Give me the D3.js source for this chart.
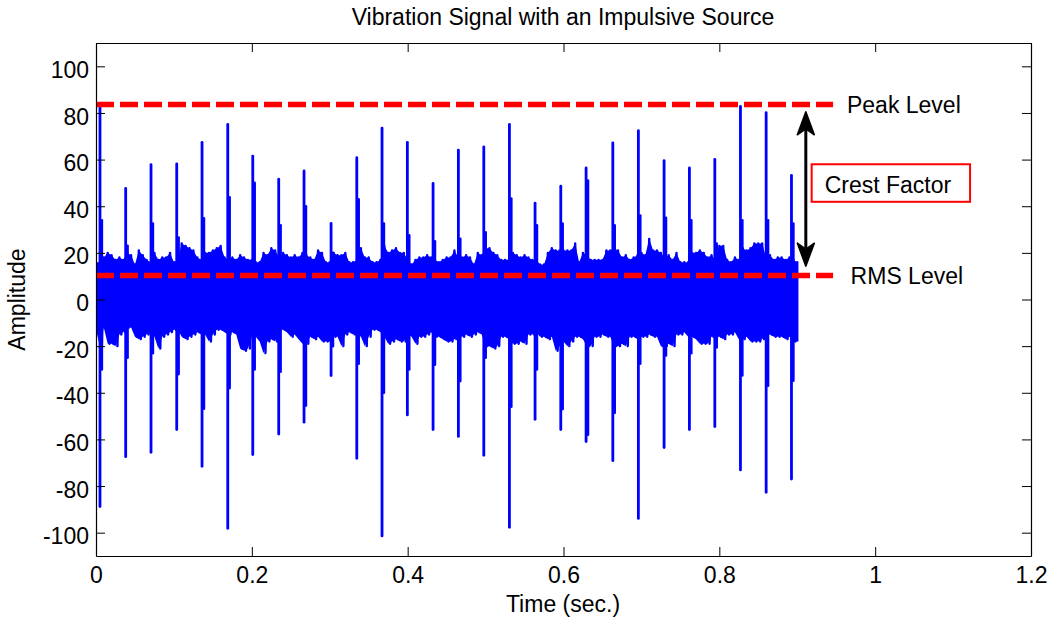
<!DOCTYPE html>
<html>
<head>
<meta charset="utf-8">
<script src="https://cdn.jsdelivr.net/npm/d3@7"></script>
<style>
  html, body { margin: 0; padding: 0; background: #fff; }
  svg { display: block; font-family: "Liberation Sans", Arial, Helvetica, sans-serif; }
</style>
</head>
<body>
<svg id="chart" width="1051" height="621"></svg>
<script>
// ---------------- DATA ----------------
const xTicks = [0, 0.2, 0.4, 0.6, 0.8, 1, 1.2];
const yTicks = [-100, -80, -60, -40, -20, 0, 20, 40, 60, 80, 100];

// impulse (spike) times in seconds
const impulseT = [0.0051, 0.0381, 0.0706, 0.1036, 0.1361, 0.1691, 0.2012, 0.2345, 0.2670, 0.3017,
                  0.3347, 0.3671, 0.3996, 0.4326, 0.4651, 0.4977, 0.5306, 0.5635, 0.5965, 0.6290,
                  0.6633, 0.6961, 0.7291, 0.7616, 0.7942, 0.8271, 0.8601, 0.8926];
// spike maxima
const impulsePeak = [83.6, 47.6, 57.8, 58.2, 67.4, 75.1, 61.5, 51.6, 55.1, 32.6,
                     60.8, 73.5, 67.4, 49.8, 64.1, 65.4, 75.1, 41.3, 48.6, 56.4,
                     67.2, 72.4, 59.5, 56.4, 60.1, 82.8, 80.1, 53.2];
// spike minima
const impulseTrough = [-88.8, -67.4, -65.5, -55.8, -71.5, -98.1, -66.5, -57.7, -52.6, -32.6,
                       -68.1, -101.4, -49.5, -55.8, -58.7, -66.8, -97.7, -51.4, -55.8, -60.9,
                       -69.1, -93.9, -63.5, -55.8, -54.5, -73.1, -82.7, -77.0];
// decaying ring-down right after each spike
const shoulderHi = [34, 23, 32.6, 26.6, 34.8, 43.8, 50, 31.8, 40, 20,
                    43, 32.6, 27.5, 25, 26, 28.8, 43.3, 31.8, 32.6, 51,
                    31.8, 36, 35, 34, 24, 34, 34, 32.6];
const shoulderLo = [-30, -25, -23, -32, -46.8, -38, -30, -31, -45.5, -20,
                    -27.5, -40, -30, -28, -35, -25, -46, -30, -47, -58,
                    -48.6, -27.5, -24, -23, -20.6, -32.6, -37, -34.8];

// background vibration envelope, one sample every 0.005 s from 0 to 0.9 s
const envStep = 0.005;
const envUpper = [
  16,16,18,20,19,17,18,17,20,19,
  15,21,19,17,16,20,17,18,18,20,
  16,17,24,23,22,21,18,17,20,20,
  21,22,23,18,17,18,17,19,18,17,
  17,16,16,20,19,22,21,18,20,19,
  18,19,18,20,19,18,17,21,20,16,
  16,20,19,19,20,16,16,17,22,18,
  18,16,16,17,23,20,21,22,20,20,
  17,15,17,18,18,19,18,17,16,17,
  18,18,21,18,18,19,18,15,20,19,
  22,22,20,19,17,17,17,20,19,18,
  19,18,17,17,15,15,20,22,21,21,
  21,21,21,24,16,20,19,17,17,17,
  17,21,21,22,21,18,19,17,18,19,
  20,19,26,21,21,20,18,19,17,20,
  16,16,16,20,20,21,20,18,19,17,
  23,23,17,16,18,17,22,21,22,24,
  24,24,18,19,17,18,18,17,18,17,16
];
const envLower = [
  -13,-20,-12,-19,-19,-20,-15,-14,-12,-12,
  -16,-17,-16,-15,-14,-16,-21,-16,-15,-14,
  -13,-13,-16,-17,-16,-15,-14,-15,-15,-18,
  -15,-13,-13,-14,-15,-14,-15,-21,-22,-21,
  -16,-16,-18,-23,-18,-17,-18,-13,-13,-14,
  -16,-15,-17,-19,-19,-16,-17,-16,-18,-18,
  -18,-16,-16,-20,-15,-14,-15,-15,-16,-20,
  -16,-13,-13,-14,-16,-19,-18,-17,-18,-18,
  -15,-16,-19,-16,-16,-15,-14,-16,-16,-17,
  -18,-18,-17,-16,-16,-15,-16,-15,-14,-15,
  -20,-20,-21,-20,-16,-16,-17,-19,-19,-18,
  -19,-15,-15,-14,-16,-16,-17,-16,-22,-20,
  -18,-20,-18,-16,-16,-17,-20,-20,-16,-16,
  -15,-16,-16,-20,-20,-19,-20,-16,-16,-17,
  -16,-16,-15,-16,-16,-20,-20,-19,-20,-15,
  -15,-14,-16,-16,-17,-19,-19,-19,-16,-16,
  -16,-17,-15,-15,-14,-17,-17,-16,-18,-18,
  -18,-17,-15,-15,-16,-16,-16,-17,-16,-18,-18
];

const peakLevel = 83.6;
const rmsLevel = 10.3;
const levelLineEnd = 0.946;
const titleText = "Vibration Signal with an Impulsive Source";
const xLabel = "Time (sec.)";
const yLabel = "Amplitude";

// ---------------- CHART ----------------
const svg = d3.select("#chart");
const L = 96, R = 1031, T = 43, B = 556;
const FONT = 23;
const x = d3.scaleLinear().domain([0, 1.2]).range([L, R]);
const y = d3.scaleLinear().domain([-110, 110]).range([B, T]);

svg.append("rect").attr("x", 0).attr("y", 0).attr("width", 1051).attr("height", 621).attr("fill", "#fff");

const clipId = "plotclip";
svg.append("defs").append("clipPath").attr("id", clipId)
  .append("rect").attr("x", L).attr("y", T).attr("width", R - L).attr("height", B - T);
const plot = svg.append("g").attr("clip-path", `url(#${clipId})`);

// background vibration: oscillating trace between the read envelope values
const envData = envUpper.map((u, i) => ({ t: i * envStep, hi: u, lo: envLower[i] }));
const trace = [];
envData.forEach(d => {
  trace.push([d.t, d.hi]);
  trace.push([Math.min(d.t + envStep / 2, 0.9), d.lo]);
});
// solid core underneath
const area = d3.area()
  .x(d => x(d.t))
  .y0(d => y(d.lo))
  .y1(d => y(d.hi))
  .curve(d3.curveLinear);
plot.append("path")
  .datum(envData)
  .attr("d", area)
  .attr("fill", "#0000ff");
plot.append("path")
  .datum(trace)
  .attr("d", d3.line().x(d => x(d[0])).y(d => y(d[1])))
  .attr("fill", "none")
  .attr("stroke", "#0000ff")
  .attr("stroke-width", 2.4)
  .attr("stroke-linejoin", "round");

// spikes
const spikes = impulseT.map((t, i) => ({ t, pk: impulsePeak[i], tr: impulseTrough[i], sh: shoulderHi[i], sl: shoulderLo[i] }));
plot.selectAll("line.shoulder").data(spikes).join("line")
  .attr("class", "shoulder")
  .attr("x1", d => x(d.t + 0.0024)).attr("x2", d => x(d.t + 0.0024))
  .attr("y1", d => y(d.sl)).attr("y2", d => y(d.sh))
  .attr("stroke", "#0000ff").attr("stroke-width", 2.6).attr("stroke-linecap", "round");
plot.selectAll("line.spike").data(spikes).join("line")
  .attr("class", "spike")
  .attr("x1", d => x(d.t)).attr("x2", d => x(d.t))
  .attr("y1", d => y(d.tr)).attr("y2", d => y(d.pk))
  .attr("stroke", "#0000ff").attr("stroke-width", 2.8).attr("stroke-linecap", "round");

// dashed level lines
[peakLevel, rmsLevel].forEach(v => {
  plot.append("line")
    .attr("x1", x(0)).attr("x2", x(levelLineEnd))
    .attr("y1", y(v)).attr("y2", y(v))
    .attr("stroke", "#ff0000").attr("stroke-width", 5.5)
    .attr("stroke-dasharray", "18,6");
});

// axes box
const ax = svg.append("g");
const fmtY = d => String(d);
const fmtX = d3.format("~g");

const gB = ax.append("g").attr("transform", `translate(0,${B})`)
  .call(d3.axisBottom(x).tickValues(xTicks).tickFormat(fmtX).tickSizeInner(-9).tickSizeOuter(0).tickPadding(11));
const gT = ax.append("g").attr("transform", `translate(0,${T})`)
  .call(d3.axisTop(x).tickValues(xTicks).tickFormat("").tickSizeInner(-9).tickSizeOuter(0));
const gL = ax.append("g").attr("transform", `translate(${L},0)`)
  .call(d3.axisLeft(y).tickValues(yTicks).tickFormat(fmtY).tickSizeInner(-9).tickSizeOuter(0).tickPadding(7));
const gR = ax.append("g").attr("transform", `translate(${R},0)`)
  .call(d3.axisRight(y).tickValues(yTicks).tickFormat("").tickSizeInner(-9).tickSizeOuter(0));

[gB, gT, gL, gR].forEach(g => {
  g.selectAll("path.domain").attr("stroke", "#000").attr("stroke-width", 1.2);
  g.selectAll(".tick line").attr("stroke", "#000").attr("stroke-width", 1);
  g.selectAll(".tick text").attr("fill", "#000").style("font-size", FONT + "px")
    .style("font-family", '"Liberation Sans", Arial, sans-serif');
});
gL.selectAll(".tick text").attr("dy", "0.48em");
gB.selectAll(".tick text").attr("dy", "0.71em");

// titles
svg.append("text").attr("x", 563).attr("y", 25).attr("text-anchor", "middle")
  .style("font-size", FONT + "px").attr("fill", "#000").text(titleText);
svg.append("text").attr("x", 563).attr("y", 612).attr("text-anchor", "middle")
  .style("font-size", FONT + "px").attr("fill", "#000").text(xLabel);
svg.append("text").attr("transform", `translate(25,${(T + B) / 2}) rotate(-90)`).attr("text-anchor", "middle")
  .style("font-size", FONT + "px").attr("fill", "#000").text(yLabel);

// annotations
const ann = svg.append("g");
ann.append("text").attr("x", x(0.9638)).attr("y", y(peakLevel) + 8.5)
  .style("font-size", FONT + "px").attr("fill", "#000").text("Peak Level");
ann.append("text").attr("x", x(0.9685)).attr("y", y(rmsLevel) + 8.5)
  .style("font-size", FONT + "px").attr("fill", "#000").text("RMS Level");

// double arrow
const arrowX = x(0.911), aTop = y(80.5), aBot = y(14.3);
const headL = 23, headW = 8.5, notch = 6;
ann.append("line").attr("x1", arrowX).attr("x2", arrowX)
  .attr("y1", aTop + 10).attr("y2", aBot - 10)
  .attr("stroke", "#000").attr("stroke-width", 3);
ann.append("path")
  .attr("d", `M${arrowX},${aTop} L${arrowX + headW},${aTop + headL} L${arrowX},${aTop + headL - notch} L${arrowX - headW},${aTop + headL} Z`)
  .attr("fill", "#000").attr("stroke", "#000").attr("stroke-width", 1.5).attr("stroke-linejoin", "round");
ann.append("path")
  .attr("d", `M${arrowX},${aBot} L${arrowX + headW},${aBot - headL} L${arrowX},${aBot - headL + notch} L${arrowX - headW},${aBot - headL} Z`)
  .attr("fill", "#000").attr("stroke", "#000").attr("stroke-width", 1.5).attr("stroke-linejoin", "round");

// crest factor box
const bx0 = x(0.9185), bx1 = x(1.1218), by0 = y(58), by1 = y(41.9);
ann.append("rect").attr("x", bx0).attr("y", by0).attr("width", bx1 - bx0).attr("height", by1 - by0)
  .attr("fill", "#fff").attr("stroke", "#ff0000").attr("stroke-width", 2);
ann.append("text").attr("x", x(1.0164)).attr("y", y(45.8)).attr("text-anchor", "middle")
  .style("font-size", FONT + "px").attr("fill", "#000").text("Crest Factor");
</script>
</body>
</html>
